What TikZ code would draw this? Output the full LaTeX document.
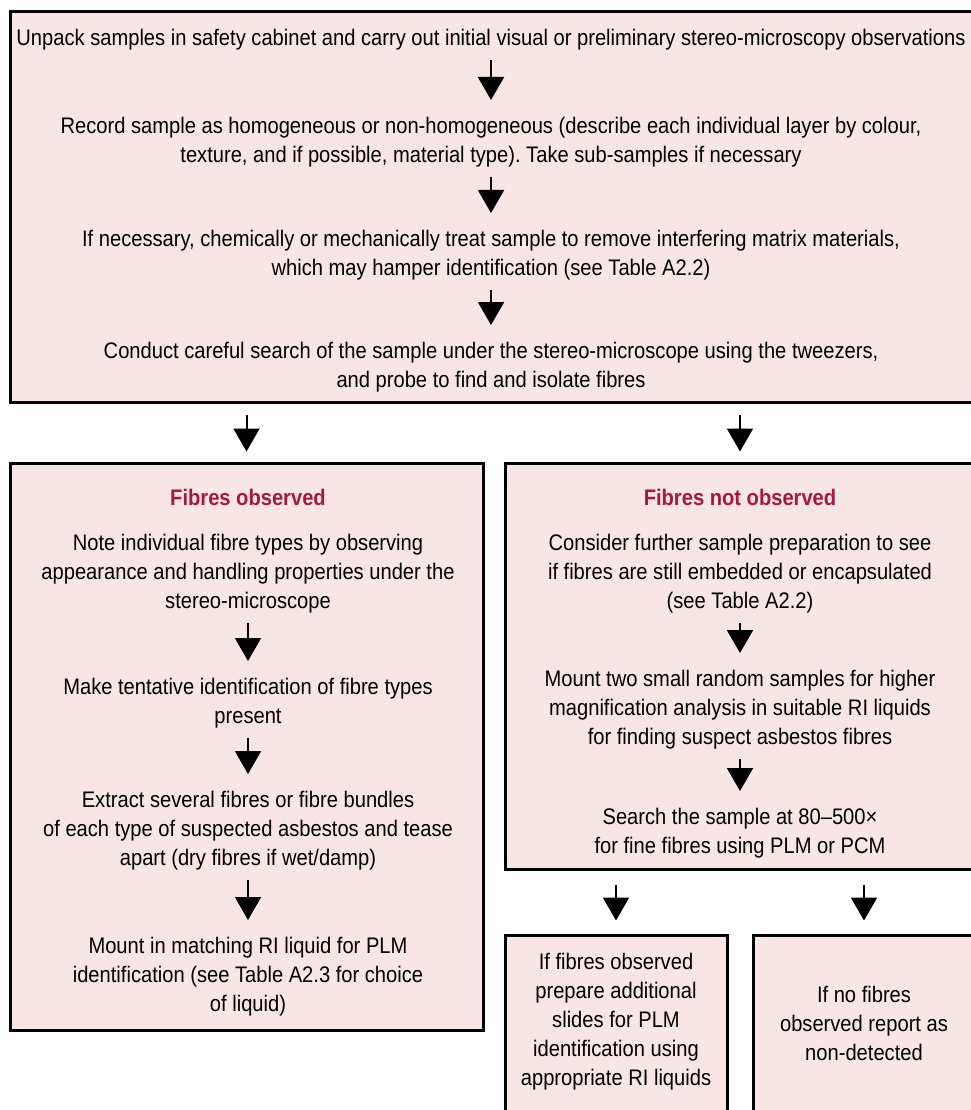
\documentclass[tikz,border=0pt]{standalone}
\usepackage{fontspec}
\setmainfont{Liberation Sans}[FakeStretch=0.895]
\usepackage{tikz}
\usetikzlibrary{arrows.meta,positioning}

\definecolor{boxpink}{RGB}{247,230,228}
\definecolor{headred}{RGB}{166,25,60}

\frenchspacing

\begin{document}
\begin{tikzpicture}[x=1pt,y=-1pt,->,>={Triangle[width=26pt,length=23pt]},
                    line width=2pt,shorten <=9pt,shorten >=16pt]
  \tikzstyle{box}=[draw,line width=3pt,fill=boxpink,rectangle,inner sep=0pt]
  \tikzstyle{txt}=[anchor=north,align=center,inner sep=0pt,
                   font=\fontsize{22.5}{29}\selectfont]
  \tikzstyle{head}=[txt,font=\fontsize{22.5}{29}\selectfont\bfseries,text=headred]

  \useasboundingbox (0,0) rectangle (970,1110);

  % frames
  \node[box,minimum width=965pt,minimum height=390pt] (top)      at (492.5,207)  {};
  \node[box,minimum width=473pt,minimum height=567pt] (left)     at (246.5,746.5) {};
  \node[box,minimum width=470pt,minimum height=406pt] (right)    at (740,666)    {};
  \node[box,minimum width=222pt,minimum height=200pt] (leftres)  at (616,1035)   {};
  \node[box,minimum width=222pt,minimum height=200pt] (rightres) at (864,1035)   {};

  % preparation steps
  \node[txt] (t1) at (491,28)  {Unpack samples in safety cabinet and carry out initial visual or preliminary stereo-microscopy observations};
  \node[txt] (t2) at (491,116) {Record sample as homogeneous or non-homogeneous (describe each individual layer by colour,\\ texture, and if possible, material type). Take sub-samples if necessary};
  \node[txt] (t3) at (491,229) {If necessary, chemically or mechanically treat sample to remove interfering matrix materials,\\ which may hamper identification (see Table A2.2)};
  \node[txt] (t4) at (491,341) {Conduct careful search of the sample under the stereo-microscope using the tweezers,\\ and probe to find and isolate fibres};

  % fibres observed
  \node[head] (lhead) at (248,488) {Fibres observed};
  \node[txt] (l1) at (248,533) {Note individual fibre types by observing\\ appearance and handling properties under the\\ stereo-microscope};
  \node[txt] (l2) at (248,677) {Make tentative identification of fibre types\\ present};
  \node[txt] (l3) at (248,790) {Extract several fibres or fibre bundles\\ of each type of suspected asbestos and tease\\ apart (dry fibres if wet/damp)};
  \node[txt] (l4) at (248,936) {Mount in matching RI liquid for PLM\\ identification (see Table A2.3 for choice\\ of liquid)};

  % fibres not observed
  \node[head] (rhead) at (740,488) {Fibres not observed};
  \node[txt] (r1) at (740,533) {Consider further sample preparation to see\\ if fibres are still embedded or encapsulated\\ (see Table A2.2)};
  \node[txt] (r2) at (740,669) {Mount two small random samples for higher\\ magnification analysis in suitable RI liquids\\ for finding suspect asbestos fibres};
  \node[txt] (r3) at (740,807) {Search the sample at 80--500×\\ for fine fibres using PLM or PCM};

  % results
  \node[txt] (s1) at (616,952) {If fibres observed\\ prepare additional\\ slides for PLM\\ identification using\\ appropriate RI liquids};
  \node[txt] (s2) at (864,985) {If no fibres\\ observed report as\\ non-detected};

  \path (t1) edge (t2)
        (t2) edge (t3)
        (t3) edge (t4)
        (l1) edge (l2)
        (l2) edge (l3)
        (l3) edge (l4)
        (r1) edge (r2)
        (r2) edge (r3);

  \draw[shorten <=11pt,shorten >=10pt] (left.north |- top.south) -- (left.north);
  \draw[shorten <=11pt,shorten >=10pt] (right.north |- top.south) -- (right.north);
  \draw[shorten <=14pt,shorten >=13pt] (leftres.north |- right.south) -- (leftres.north);
  \draw[shorten <=14pt,shorten >=13pt] (rightres.north |- right.south) -- (rightres.north);

\end{tikzpicture}
\end{document}
